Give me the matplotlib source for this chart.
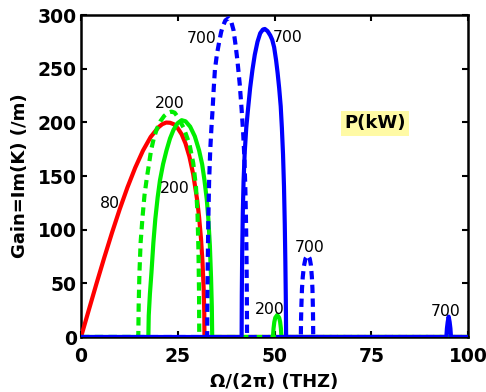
import matplotlib
matplotlib.use("Agg")
import matplotlib.pyplot as plt

plt.rcParams['font.family'] = ['DejaVu Sans']

# ---- data (frequency THz, gain /m) ----
red80_x = [0, 2, 4, 6, 8, 10, 12, 14, 16, 18, 20, 21, 22, 23, 24, 25, 26, 27, 28, 29, 30, 30.5, 31, 31.4,
           31.7, 31.85, 31.9, 100]
red80_y = [0, 25.0, 49.8, 73.9, 97.1, 119.1, 139.4, 157.7, 173.6, 186.4, 195.4, 198.3, 199.8, 199.6, 198.2,
           194.5, 188.9, 180.3, 168.2, 151.5, 127.9, 112.1, 91.7, 69.4, 44.4, 22.4, 0, 0]

g200d_x = [0, 14.8, 14.9, 15.1, 15.4, 15.9, 16.4, 17.0, 17.6, 18.1, 18.8, 19.6, 20.5, 21.5, 22.5, 23.4, 24.2,
           25.0, 26.5, 28.0, 29.0, 29.7, 30.1, 30.35, 30.5, 30.55, 100]
g200d_y = [0, 0, 30, 60, 88, 112, 132, 148, 162, 174, 185, 194, 201, 206, 209, 210, 209,
           205, 195, 180, 162, 140, 115, 80, 40, 0, 0]

g200s_x = [0, 17.4, 17.5, 17.8, 18.2, 18.7, 19.2, 19.8, 20.4, 21.2, 22.1, 23.0, 23.9, 24.9, 26.0, 27.0, 28.2,
           29.4, 30.5, 31.3, 31.9, 32.5, 32.9, 33.3, 33.6, 33.8, 33.9,
           49.6, 49.75, 49.95, 50.2, 50.7, 51.2, 51.45, 51.65, 51.8, 100]
g200s_y = [0, 0, 20, 40, 60, 88, 110, 130, 146, 161, 174, 185, 193, 199, 202, 201, 196,
           187, 174, 161, 146, 128, 110, 85, 55, 28, 0,
           0, 8, 14, 18, 20.5, 18, 14, 8, 0, 0]

b700d_x = [0, 32.6, 32.65, 32.75, 32.9, 33.1, 33.4, 33.7, 34.0, 34.3, 34.6, 35.1, 35.7, 36.2, 36.6, 37.3, 38.1,
           38.8, 39.4, 39.9, 40.4, 41.0, 41.5, 41.9, 42.2, 42.45, 42.6, 42.75, 42.85, 42.9,
           56.8, 56.85, 56.95, 57.1, 57.3, 57.6, 58.0, 58.6, 59.1, 59.4, 59.65, 59.8, 59.9, 59.97, 60.0, 100]
b700d_y = [0, 0, 30, 70, 110, 145, 175, 195, 212, 232, 249, 263, 275, 284, 289, 295, 297,
           294, 286, 273, 258, 236, 212, 190, 168, 140, 115, 80, 40, 0,
           0, 15, 30, 45, 56, 66, 73, 76, 73, 67, 56, 45, 30, 15, 0, 0]

b700s_x = [0, 41.5, 41.55, 41.65, 41.8, 42.0, 42.3, 42.7, 43.2, 43.7, 44.3, 44.9, 45.6, 46.3, 47.0, 47.5, 48.2,
           48.9, 49.4, 49.9, 50.4, 50.8, 51.2, 51.6, 51.9, 52.2, 52.45, 52.65, 52.8, 52.92, 53.0,
           94.4, 94.55, 94.75, 95.0, 95.25, 95.45, 95.6, 100]
b700s_y = [0, 0, 40, 80, 115, 145, 172, 195, 214, 232, 249, 263, 275, 283, 286.5, 287, 285,
           281, 277, 270, 258, 246, 232, 215, 195, 170, 140, 105, 70, 35, 0,
           0, 8, 14, 19, 14, 8, 0, 0]

x_ticks = [0, 25, 50, 75, 100]
y_ticks = [0, 50, 100, 150, 200, 250, 300]

labels_txt = ["80", "200", "200", "700", "700", "700", "200", "700"]
labels_x = [7.5, 23.0, 24.3, 31.2, 53.3, 59.0, 48.8, 94.1]
labels_y = [124.6, 217.7, 138.6, 278.4, 279.0, 83.6, 25.2, 23.6]

# ---- figure ----
fig = plt.figure(figsize=(4.86, 3.92), dpi=100)
ax = fig.add_axes([0.1667, 0.1403, 0.7963, 0.8214])

lw = 3.0
common = dict(lw=lw, solid_joinstyle='round', dash_joinstyle='round')
ax.plot(red80_x, red80_y, color='#ff0000', zorder=3, **common)
ax.plot(g200d_x, g200d_y, color='#00ee00', dashes=(2.0, 1.3), zorder=3, **common)
ax.plot(g200s_x, g200s_y, color='#00ee00', zorder=3, **common)
ax.plot(b700d_x, b700d_y, color='#0000ff', dashes=(2.0, 1.3), zorder=4, **common)
ax.plot(b700s_x, b700s_y, color='#0000ff', zorder=5, **common)

for t, x, y in zip(labels_txt, labels_x, labels_y):
    ax.text(x, y, t, ha='center', va='center', fontsize=11.3, color='black', zorder=6)

ax.text(76.0, 199, "P(kW)", ha='center', va='center', fontsize=13, fontweight='bold',
        bbox=dict(boxstyle='square,pad=0.2', facecolor='#fffaa5', edgecolor='none'), zorder=6)

ax.set_xlim(0, 100)
ax.set_ylim(0, 300)
ax.set_xticks(x_ticks)
ax.set_yticks(y_ticks)
ax.tick_params(direction='in', length=4, width=1.5, top=True, right=True, labelsize=13.5)
ax.tick_params(axis='x', pad=7)
ax.tick_params(axis='y', pad=3)
for lab in ax.get_xticklabels() + ax.get_yticklabels():
    lab.set_fontweight('bold')
for s in ax.spines.values():
    s.set_linewidth(1.8)

ax.set_xlabel("Ω/(2π) (THZ)", fontsize=13, fontweight='bold', va='center')
ax.set_ylabel("Gain=Im(K) (/m)", fontsize=13, fontweight='bold', va='center')
ax.xaxis.set_label_coords(0.5, -0.139)
ax.yaxis.set_label_coords(-0.158, 0.5)

fig.savefig("out.png", dpi=100)
